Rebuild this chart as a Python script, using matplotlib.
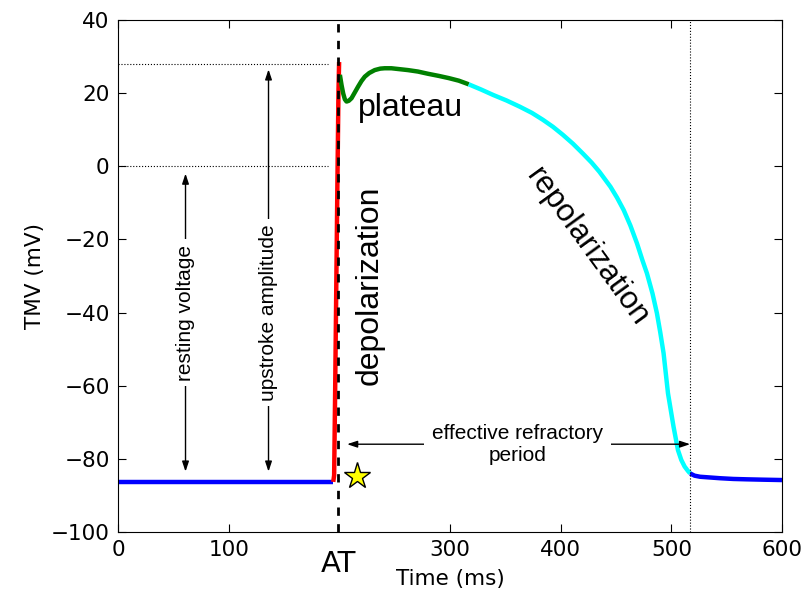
import numpy as np
import matplotlib.pyplot as plt
from matplotlib.transforms import blended_transform_factory

# key times / voltages (ms, mV)
AT = 199
ERP_END = 517
V_REST = -86
V_PEAK = 28

# action potential trace, split by phase
rest_t = [0, 194.5]
rest_v = [-86.3, -86.3]

up_t = [194.5, 195.3, 196.2, 197.2, 198.2, 199.2, 199.8]
up_v = [-86.3, -84.5, -62.0, -34.0, -6.0, 20.0, 28.5]

plat_t = [200.5, 202.0, 203.5, 205.0, 206.5, 208.5, 211.0, 214.0, 217.0, 220.0,
          223.0, 227.0, 232.0, 237.0, 241.0, 247.0, 253.0, 262.0, 271.0, 280.0,
          290.0, 299.0, 308.0, 317.0]
plat_v = [25.0, 22.2, 19.9, 18.3, 17.7, 17.9, 18.6, 20.2, 21.8, 23.3,
          24.5, 25.5, 26.3, 26.7, 26.8, 26.8, 26.6, 26.3, 25.9, 25.3,
          24.7, 24.1, 23.4, 22.4]

repol_t = [317, 328, 339, 351, 363, 374, 384, 393, 402, 411, 420, 428, 435, 445,
           451, 457, 463, 469, 474, 478, 483, 487, 490, 493, 497, 502, 506, 509,
           512, 515, 517]
repol_v = [22.4, 21.0, 19.5, 18.0, 16.3, 14.6, 12.7, 10.8, 8.6, 6.2, 3.5, 1.0, -1.5, -5.6,
           -8.6, -12.0, -16.2, -21.1, -25.8, -29.3, -34.8, -40.2, -45.4, -51.1, -62.1, -71.2, -77.6, -80.3,
           -82.1, -83.3, -84.0]

tail_t = [517, 521, 526, 535, 544, 556, 568, 583, 600]
tail_v = [-84.0, -84.6, -84.9, -85.1, -85.3, -85.5, -85.6, -85.7, -85.8]

xticks = [0, 100, 300, 400, 500, 600]
yticks = [-100, -80, -60, -40, -20, 0, 20, 40]

fig = plt.figure(figsize=(8.05, 5.93), dpi=100)
ax = fig.add_axes([0.1466, 0.1029, 0.8248, 0.8634])

lw = 3.2
ax.plot(rest_t, rest_v, color='#0000ff', lw=lw, solid_capstyle='butt')
ax.plot(up_t, up_v, color='#ff0000', lw=lw, solid_capstyle='butt')
ax.plot(plat_t, plat_v, color='#008000', lw=lw, solid_capstyle='butt')
ax.plot(repol_t, repol_v, color='#00ffff', lw=lw, solid_capstyle='butt')
ax.plot(tail_t, tail_v, color='#0000ff', lw=lw, solid_capstyle='butt')

# reference lines
ax.axvline(AT, color='k', lw=2, ls=(0, (3, 3)), zorder=5)
ax.axvline(ERP_END, color='k', lw=0.8, ls=':')
ax.plot([0, 190], [V_PEAK, V_PEAK], color='k', lw=0.8, ls=':')
ax.plot([0, 190], [0, 0], color='k', lw=0.8, ls=':')

# activation marker
ax.plot(216, -84.7, marker='*', ms=20, mfc='#ffff00', mec='k', mew=1, zorder=6)

arrow = dict(arrowstyle='<|-|>,head_length=0.6,head_width=0.2', color='k', lw=1,
             shrinkA=0, shrinkB=0)
small = dict(family='Liberation Sans', fontsize=15)
big = dict(family='Liberation Sans', fontsize=23)
white = dict(facecolor='white', edgecolor='none', pad=4)

ax.annotate('', xy=(61, -2), xytext=(61, -83.5), arrowprops=arrow)
ax.text(61, -40, 'resting voltage', rotation=90, ha='center', va='center',
        bbox=white, **small)
ax.annotate('', xy=(136, 26.5), xytext=(136, -83.5), arrowprops=arrow)
ax.text(136, -40, 'upstroke amplitude', rotation=90, ha='center', va='center',
        bbox=white, **small)
ax.annotate('', xy=(207, -76), xytext=(ERP_END, -76), arrowprops=arrow)
ax.text(361, -76, 'effective refractory\nperiod', ha='center', va='center',
        bbox=dict(facecolor='white', edgecolor='none', pad=6), **small)

ax.text(264, 16, 'plateau', ha='center', va='center', **big)
ax.text(227, -32.5, 'depolarization', rotation=90, ha='center', va='center', **big)
ax.text(424, -22, 'repolarization', rotation=-54, ha='center', va='center',
        rotation_mode='anchor', family='Liberation Sans', fontsize=22.5)

ax.set_xlim(0, 600)
ax.set_ylim(-100, 40)
ax.set_xticks(xticks)
ax.set_yticks(yticks)
ax.tick_params(direction='in', top=True, right=True, length=6, labelsize=15.5, pad=6)
ax.set_xlabel('Time (ms)', fontsize=15.5, labelpad=6)
ax.set_ylabel('TMV (mV)', fontsize=15.5)

trans = blended_transform_factory(ax.transData, ax.transAxes)
ax.text(AT, -0.035, 'AT', transform=trans, ha='center', va='top', fontsize=21)

fig.savefig('out.png', dpi=100)
